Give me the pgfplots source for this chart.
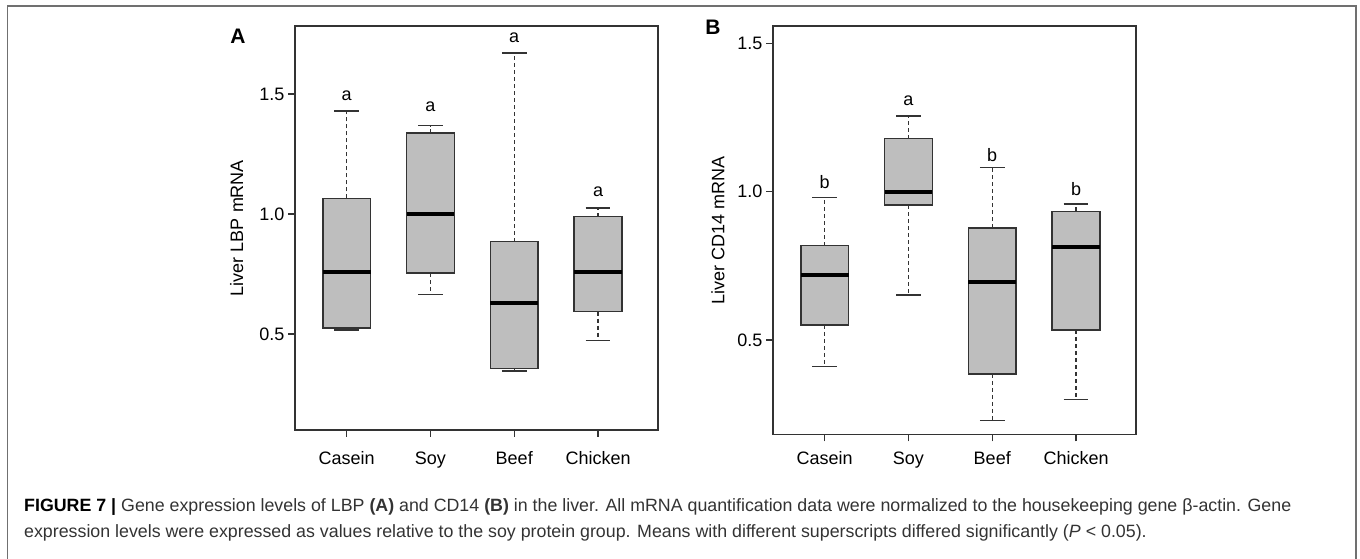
\documentclass[border=0pt]{standalone}
\usepackage{fontspec}
\setmainfont{Liberation Sans}
\usepackage{pgfplots}
\pgfplotsset{compat=1.18}
\usepgfplotslibrary{statistics}

\definecolor{boxgray}{HTML}{BEBEBE}
\definecolor{edge}{HTML}{333333}
\definecolor{framegray}{HTML}{707070}
\definecolor{captext}{HTML}{333333}

\newcommand{\lab}{\fontsize{18}{21}\selectfont}

\tikzset{sig/.style={font=\lab, inner sep=0pt, text=black}}

\pgfplotsset{
  panel/.style={
    scale only axis, width=363pt,
    xmin=0.383, xmax=4.716,
    xtick={1,2,3,4}, xticklabels={Casein,Soy,Beef,Chicken},
    ytick={0.5,1.0,1.5},
    /pgf/number format/assume math mode=true,
    yticklabel style={/pgf/number format/fixed, /pgf/number format/fixed zerofill, /pgf/number format/precision=1},
    tick align=outside, xtick pos=bottom, ytick pos=left,
    major tick length=7pt,
    axis line style={draw=edge, line width=1.3pt},
    every tick/.style={draw=edge, line width=1.3pt},
    tick label style={font=\lab, text=black},
    label style={font=\lab},
    clip=false,
    boxplot/draw direction=y,
    boxplot/box extend=0.57,
    boxplot/whisker extend=0.295,
    boxplot/every box/.style={fill=boxgray, draw=edge, line width=1.5pt},
    boxplot/every median/.style={draw=black, line width=4pt},
    boxplot/draw/lower whisker/.code={
      \draw[draw=edge, line width=1.2pt, dash pattern=on 4pt off 3pt]
        (boxplot box cs:\pgfplotsboxplotvalue{lower quartile},0.5) --
        (boxplot box cs:\pgfplotsboxplotvalue{lower whisker},0.5);
      \draw[draw=edge, line width=1.4pt, solid]
        (boxplot whisker cs:\pgfplotsboxplotvalue{lower whisker},0) --
        (boxplot whisker cs:\pgfplotsboxplotvalue{lower whisker},1);
    },
    boxplot/draw/upper whisker/.code={
      \draw[draw=edge, line width=1.2pt, dash pattern=on 4pt off 3pt]
        (boxplot box cs:\pgfplotsboxplotvalue{upper quartile},0.5) --
        (boxplot box cs:\pgfplotsboxplotvalue{upper whisker},0.5);
      \draw[draw=edge, line width=1.4pt, solid]
        (boxplot whisker cs:\pgfplotsboxplotvalue{upper whisker},0) --
        (boxplot whisker cs:\pgfplotsboxplotvalue{upper whisker},1);
    },
  },
}

\begin{document}
\begin{tikzpicture}
\path[use as bounding box] (0,0) rectangle (1360pt,559pt);
\draw[framegray, line width=1.5pt] (7.5pt,0) -- (7.5pt,553pt) -- (1356pt,553pt) -- (1356pt,0);

% panel A: liver LBP
\begin{axis}[panel, at={(295pt,129pt)}, anchor=south west, height=404pt,
  ymin=0.1, ymax=1.783,
  xticklabel style={yshift=-11pt},
  ylabel={Liver LBP mRNA},
  ylabel style={at={(axis description cs:-0.1606,0.5)}, anchor=center}]
\addplot[boxplot prepared={lower whisker=0.517, lower quartile=0.524, median=0.760,
  upper quartile=1.065, upper whisker=1.429, draw position=1}] coordinates {};
\addplot[boxplot prepared={lower whisker=0.664, lower quartile=0.753, median=1.000,
  upper quartile=1.338, upper whisker=1.368, draw position=2}] coordinates {};
\addplot[boxplot prepared={lower whisker=0.346, lower quartile=0.357, median=0.628,
  upper quartile=0.885, upper whisker=1.670, draw position=3}] coordinates {};
\addplot[boxplot prepared={lower whisker=0.472, lower quartile=0.593, median=0.760,
  upper quartile=0.989, upper whisker=1.024, draw position=4}] coordinates {};
\node[sig] at (axis cs:1,1.492) {a};
\node[sig] at (axis cs:2,1.447) {a};
\node[sig] at (axis cs:3,1.733) {a};
\node[sig] at (axis cs:4,1.093) {a};
\end{axis}

% panel B: liver CD14
\begin{axis}[panel, at={(773pt,124.5pt)}, anchor=south west, height=408.5pt,
  ymin=0.1817, ymax=1.5585,
  xticklabel style={yshift=-6.5pt},
  ylabel={Liver CD14 mRNA},
  ylabel style={at={(axis description cs:-0.1515,0.5)}, anchor=center}]
\addplot[boxplot prepared={lower whisker=0.410, lower quartile=0.551, median=0.719,
  upper quartile=0.818, upper whisker=0.981, draw position=1}] coordinates {};
\addplot[boxplot prepared={lower whisker=0.652, lower quartile=0.955, median=1.000,
  upper quartile=1.179, upper whisker=1.255, draw position=2}] coordinates {};
\addplot[boxplot prepared={lower whisker=0.228, lower quartile=0.386, median=0.697,
  upper quartile=0.877, upper whisker=1.082, draw position=3}] coordinates {};
\addplot[boxplot prepared={lower whisker=0.300, lower quartile=0.534, median=0.815,
  upper quartile=0.934, upper whisker=0.958, draw position=4}] coordinates {};
\node[sig] at (axis cs:1,1.034) {b};
\node[sig] at (axis cs:2,1.307) {a};
\node[sig] at (axis cs:3,1.124) {b};
\node[sig] at (axis cs:4,1.008) {b};
\end{axis}

\node[font=\bfseries\fontsize{21}{24}\selectfont] at (238pt,523pt) {A};
\node[font=\bfseries\fontsize{21}{24}\selectfont] at (713pt,531.5pt) {B};

\node[anchor=base west, inner sep=0pt, text=captext, font=\fontsize{17.8}{20}\selectfont] at (24pt,47.5pt)
  {\textbf{\color{black}FIGURE 7 |} Gene expression levels of LBP \textbf{(A)} and CD14 \textbf{(B)} in the liver. All mRNA quantification data were normalized to the housekeeping gene β-actin. Gene};
\node[anchor=base west, inner sep=0pt, text=captext, font=\fontsize{17.8}{20}\selectfont] at (24pt,21.5pt)
  {expression levels were expressed as values relative to the soy protein group. Means with different superscripts differed significantly (\textit{P} < 0.05).};
\end{tikzpicture}
\end{document}
